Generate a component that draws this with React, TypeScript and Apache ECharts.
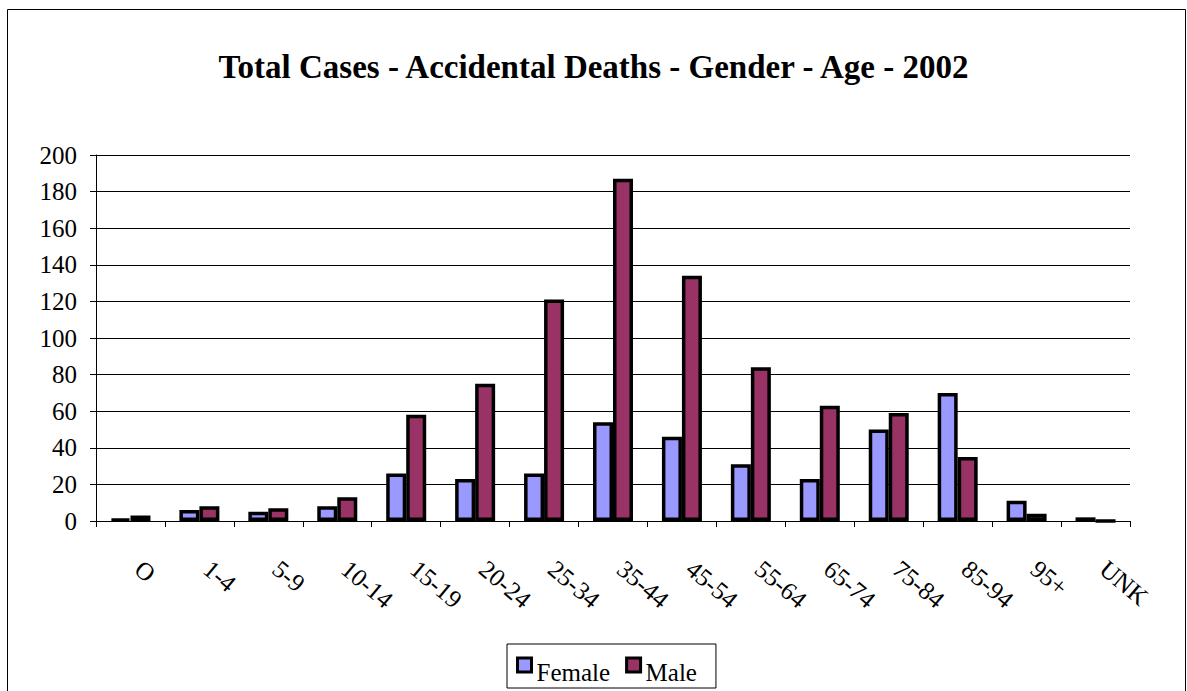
import React, { useEffect, useRef } from "react";
import * as echarts from "echarts";

const TITLE = "Total Cases - Accidental Deaths - Gender - Age - 2002";
const categories = ["O", "1-4", "5-9", "10-14", "15-19", "20-24", "25-34", "35-44", "45-54", "55-64", "65-74", "75-84", "85-94", "95+", "UNK"];
const female = [1, 6, 5, 8, 26, 23, 26, 54, 46, 31, 23, 50, 70, 11, 2];
const male = [3, 8, 7, 13, 58, 75, 121, 187, 134, 84, 63, 59, 35, 4, 0];
const yTicks = { min: 0, max: 200, interval: 20 };

const FONT = "Liberation Serif";

export default function App() {
  const ref = useRef<HTMLDivElement>(null);
  useEffect(() => {
    document.body.style.margin = "0";
    const chart = echarts.init(ref.current!, null, { renderer: "svg" });
    chart.setOption({
      animation: false,
      backgroundColor: "#fff",
      title: {
        text: TITLE,
        left: "center",
        top: 45,
        textStyle: { fontFamily: FONT, fontSize: 33, fontWeight: "bold", color: "#000" },
      },
      graphic: [
        {
          type: "rect",
          shape: { x: 7.5, y: 9.5, width: 1178, height: 700 },
          style: { fill: "none", stroke: "#000", lineWidth: 1 },
          silent: true,
        },
      ],
      grid: { left: 96, top: 155, right: 57, bottom: 170, containLabel: false },
      legend: {
        data: ["Female", "Male"],
        top: 644,
        left: 507,
        icon: "rect",
        itemWidth: 14,
        itemHeight: 14,
        itemGap: 15,
        borderColor: "#000",
        borderWidth: 1,
        borderRadius: 0,
        padding: [1.5, 19, 3.5, 9],
        itemStyle: { borderColor: "#000", borderWidth: 3 },
        formatter: "{t|{name}}",
        textStyle: {
          fontFamily: FONT,
          fontSize: 25,
          color: "#000",
          rich: {
            t: { fontFamily: FONT, fontSize: 25, lineHeight: 25, color: "#000", padding: [14, 0, 0, 0] },
          },
        },
      },
      xAxis: {
        type: "category",
        data: categories,
        axisLine: { lineStyle: { color: "#000", width: 1 } },
        axisTick: { show: true, length: 6, inside: false, lineStyle: { color: "#000" } },
        axisLabel: {
          rotate: -40,
          margin: 38,
          interval: 0,
          fontFamily: FONT,
          fontSize: 25,
          color: "#000",
          padding: [0, 0, 0, 10],
        },
        splitLine: { show: false },
      },
      yAxis: {
        type: "value",
        min: yTicks.min,
        max: yTicks.max,
        interval: yTicks.interval,
        axisLine: { show: true, lineStyle: { color: "#000", width: 1 } },
        axisTick: { show: true, length: 6, lineStyle: { color: "#000" } },
        axisLabel: { fontFamily: FONT, fontSize: 25, color: "#000", margin: 19 },
        splitLine: { show: true, lineStyle: { color: "#000", width: 1 } },
      },
      series: [
        {
          name: "Female",
          type: "bar",
          data: female,
          barWidth: 20,
          barGap: "0%",
          itemStyle: { color: "#9999FF", borderColor: "#000", borderWidth: 3.5 },
        },
        {
          name: "Male",
          type: "bar",
          data: male,
          barWidth: 20,
          barGap: "0%",
          itemStyle: { color: "#993366", borderColor: "#000", borderWidth: 3.5 },
        },
      ],
    });
    return () => chart.dispose();
  }, []);
  return <div ref={ref} style={{ width: 1187, height: 691 }} />;
}
